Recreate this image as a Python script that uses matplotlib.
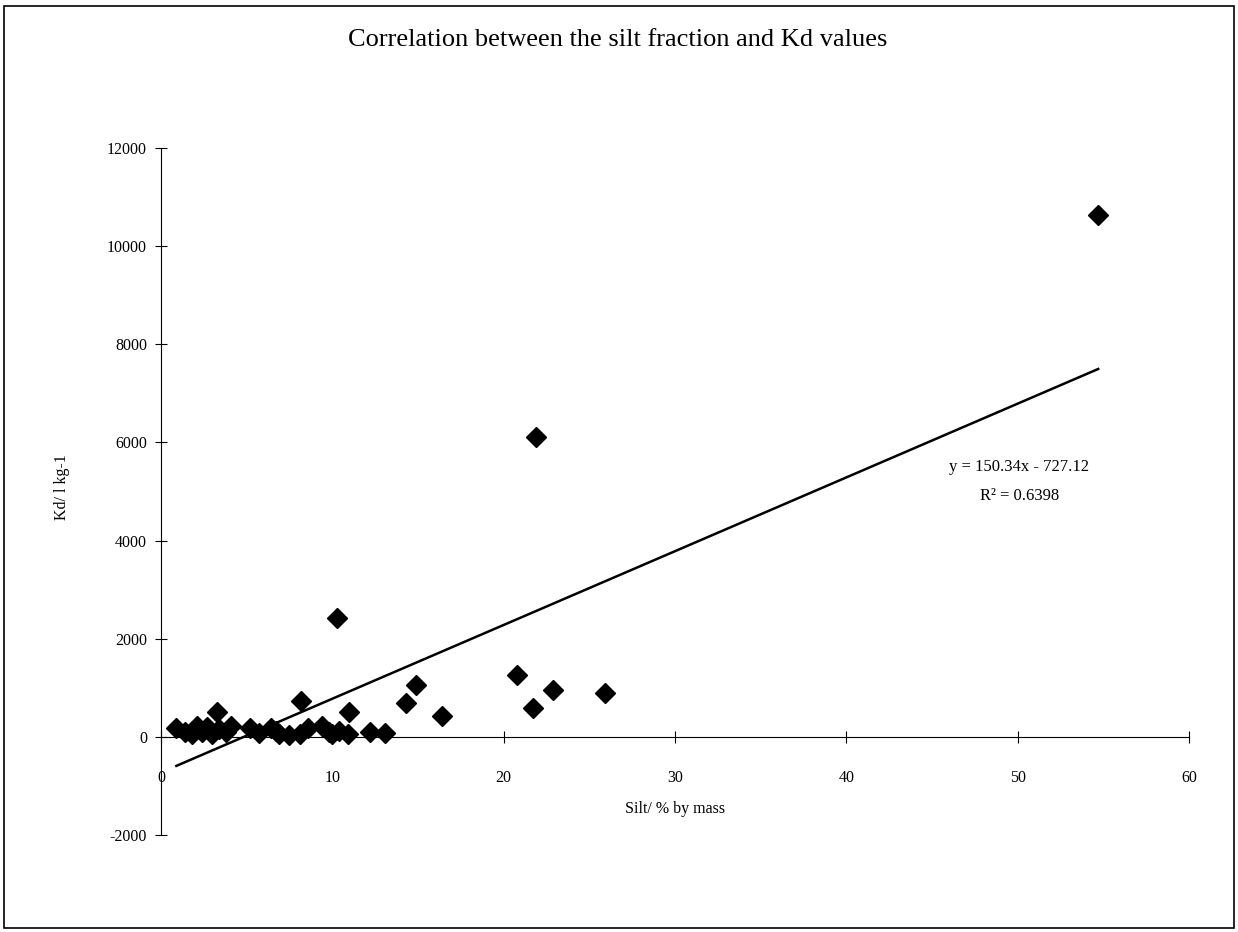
import matplotlib.pyplot as plt
from matplotlib.patches import Rectangle

# silt fraction (% by mass) and Kd (l/kg)
silt = [0.9, 1.4, 1.8, 2.1, 2.4, 2.7, 3.0, 3.3, 3.4, 3.8, 4.1, 5.2, 5.7, 6.4,
        6.7, 6.9, 7.5, 8.1, 8.2, 8.6, 9.4, 9.8, 10.0, 10.3, 10.4, 10.9, 11.0,
        12.2, 13.1, 14.3, 14.9, 16.4, 20.8, 21.7, 21.9, 22.9, 25.9, 54.7]
kd = [180, 100, 60, 220, 90, 200, 60, 500, 150, 100, 230, 180, 80, 180,
      120, 50, 40, 50, 730, 180, 230, 100, 50, 2430, 110, 60, 510,
      100, 70, 690, 1060, 430, 1260, 590, 6120, 960, 900, 10630]

# linear trendline as printed on the chart
fit_slope = 150.34
fit_intercept = -727.12
r_squared = 0.6398

x_ticks = [0, 10, 20, 30, 40, 50, 60]
y_ticks = [-2000, 0, 2000, 4000, 6000, 8000, 10000, 12000]

plt.rcParams['font.family'] = ['Liberation Serif', 'DejaVu Serif']
plt.rcParams['axes.unicode_minus'] = False

fig = plt.figure(figsize=(12.38, 9.32), dpi=100)
ax = fig.add_axes([0.130, 0.1041, 0.8304, 0.7371])

# border round the whole chart area
fig.patches.append(Rectangle((0.003, 0.004), 0.9935, 0.990, transform=fig.transFigure,
                             fill=False, edgecolor='black', linewidth=1.2))

ax.plot(silt, kd, 'D', color='black', markersize=10, zorder=3)

xs = [min(silt), max(silt)]
ax.plot(xs, [fit_slope * v + fit_intercept for v in xs], color='black', linewidth=1.8)

ax.text(50.1, 5500, f"y = {fit_slope}x - {abs(fit_intercept)}", ha='center', va='center', fontsize=12)
ax.text(50.1, 4900, f"R\u00b2 = {r_squared}", ha='center', va='center', fontsize=12)

ax.set_xlim(0, 60)
ax.set_ylim(-2000, 12000)
ax.set_xticks(x_ticks)
ax.set_yticks(y_ticks)

ax.spines['top'].set_visible(False)
ax.spines['right'].set_visible(False)
ax.spines['bottom'].set_position(('data', 0))
ax.spines['left'].set_position(('data', 0))
ax.spines['bottom'].set_linewidth(0.8)
ax.spines['left'].set_linewidth(0.8)

ax.tick_params(axis='x', direction='inout', length=8, width=0.8, labelsize=11.5, pad=20)
ax.tick_params(axis='y', direction='inout', length=8, width=0.8, labelsize=11.5, pad=6)

ax.set_xlabel("Silt/ % by mass", fontsize=11.5)
ax.xaxis.set_label_coords(0.50, 0.049)
ax.set_ylabel("Kd/ l kg-1", fontsize=11.5)
ax.yaxis.set_label_coords(-0.088, 0.507)

fig.text(0.499, 0.957, "Correlation between the silt fraction and Kd values",
         ha='center', va='center', fontsize=19)

fig.savefig('out.png', dpi=100)
